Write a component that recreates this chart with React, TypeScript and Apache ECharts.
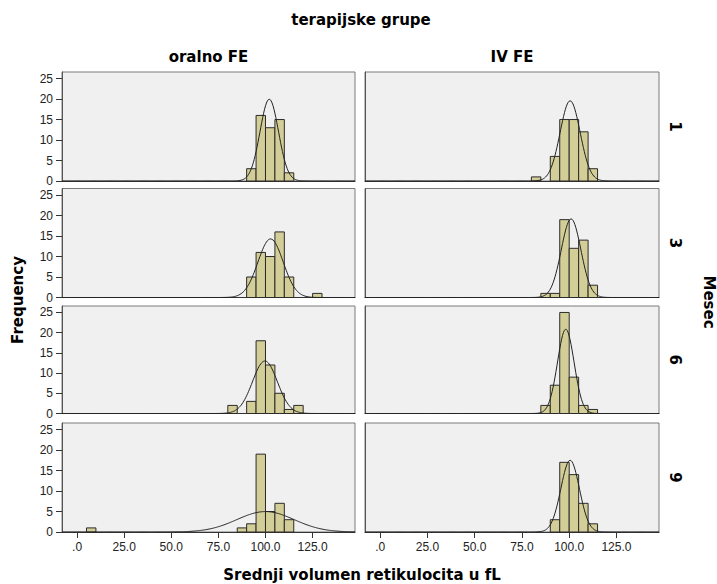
import React, { useEffect, useRef } from "react";
import * as echarts from "echarts";

// ---- data ----
const binWidth = 5;
const xTickValues = [0, 25, 50, 75, 100, 125];
const yTickValues = [0, 5, 10, 15, 20, 25];
const groupNames = ["oralno FE", "IV FE"];
const monthNames = ["1", "3", "6", "9"];

const oral1Bins = [90, 95, 100, 105, 110];
const oral1Counts = [3, 16, 13, 15, 2];
const iv1Bins = [80, 90, 95, 100, 105, 110];
const iv1Counts = [1, 6, 15, 15, 12, 3];

const oral3Bins = [90, 95, 100, 105, 110, 125];
const oral3Counts = [5, 11, 10, 16, 5, 1];
const iv3Bins = [85, 90, 95, 100, 105, 110];
const iv3Counts = [1, 1, 19, 12, 14, 3];

const oral6Bins = [80, 90, 95, 100, 105, 110, 115];
const oral6Counts = [2, 3, 18, 12, 5, 1, 2];
const iv6Bins = [85, 90, 95, 100, 105, 110];
const iv6Counts = [2, 7, 25, 9, 2, 1];

const oral9Bins = [5, 85, 90, 95, 100, 105, 110];
const oral9Counts = [1, 1, 2, 19, 5, 7, 3];
const iv9Bins = [90, 95, 100, 105, 110];
const iv9Counts = [3, 17, 14, 7, 2];

// fitted normal curve parameters (mean, sd)
const oral1Fit = [102, 4.9];
const iv1Fit = [100.5, 5.3];
const oral3Fit = [102.7, 6.7];
const iv3Fit = [101, 5.2];
const oral6Fit = [99.7, 6.6];
const iv6Fit = [98.2, 4.4];
const oral9Fit = [100, 15.2];
const iv9Fit = [100.5, 4.9];

const panels = [
  { bins: oral1Bins, counts: oral1Counts, fit: oral1Fit },
  { bins: iv1Bins, counts: iv1Counts, fit: iv1Fit },
  { bins: oral3Bins, counts: oral3Counts, fit: oral3Fit },
  { bins: iv3Bins, counts: iv3Counts, fit: iv3Fit },
  { bins: oral6Bins, counts: oral6Counts, fit: oral6Fit },
  { bins: iv6Bins, counts: iv6Counts, fit: iv6Fit },
  { bins: oral9Bins, counts: oral9Counts, fit: oral9Fit },
  { bins: iv9Bins, counts: iv9Counts, fit: iv9Fit },
];

// ---- layout ----
const X_MIN = -8;
const X_MAX = 147.5;
const Y_MAX = 26.6;
const colLeft = [62, 365];
const colWidth = [293, 294];
const rowTop = [72, 188.5, 306, 423];
const rowHeight = [109, 109, 107.5, 109];

const BAR_FILL = "#d3ce97";
const PANEL_BG = "#f0f0f0";
const LABEL_FONT = "'Liberation Sans', Arial, sans-serif";
const TITLE_FONT = "'DejaVu Sans', Verdana, sans-serif";

function normalCurve(n: number, mean: number, sd: number) {
  const pts: number[][] = [];
  for (let x = X_MIN; x <= X_MAX + 1e-9; x += 0.5) {
    const z = (x - mean) / sd;
    pts.push([x, (n * binWidth * Math.exp(-0.5 * z * z)) / (sd * Math.sqrt(2 * Math.PI))]);
  }
  return pts;
}

function buildOption() {
  const grid: any[] = [];
  const xAxis: any[] = [];
  const yAxis: any[] = [];
  const series: any[] = [];

  panels.forEach((p, i) => {
    const row = Math.floor(i / 2);
    const col = i % 2;
    const isBottom = row === 3;
    const isLeft = col === 0;
    grid.push({
      left: colLeft[col],
      top: rowTop[row],
      width: colWidth[col],
      height: rowHeight[row],
      show: true,
      backgroundColor: PANEL_BG,
      borderColor: "#7a7a7a",
      borderWidth: 1,
    });
    xAxis.push({
      type: "value",
      gridIndex: i,
      min: X_MIN,
      max: X_MAX,
      splitLine: { show: false },
      axisLine: { show: true, onZero: false, lineStyle: { color: "#333", width: 1.2 } },
      axisTick: {
        show: isBottom,
        customValues: xTickValues,
        length: 6,
        lineStyle: { color: "#333" },
      },
      axisLabel: {
        show: isBottom,
        customValues: xTickValues,
        margin: 9,
        fontSize: 12,
        color: "#222",
        fontFamily: LABEL_FONT,
        formatter: (v: number) => (v === 0 ? ".0" : v.toFixed(1)),
      },
    });
    yAxis.push({
      type: "value",
      gridIndex: i,
      min: 0,
      max: Y_MAX,
      splitLine: { show: false },
      axisLine: { show: true, onZero: false, lineStyle: { color: "#555", width: 1 } },
      axisTick: {
        show: isLeft,
        customValues: yTickValues,
        length: 6,
        lineStyle: { color: "#333" },
      },
      axisLabel: {
        show: isLeft,
        customValues: yTickValues,
        margin: 9,
        fontSize: 12,
        color: "#222",
        fontFamily: LABEL_FONT,
      },
    });
    const n = p.counts.reduce((a, b) => a + b, 0);
    series.push({
      type: "custom",
      xAxisIndex: i,
      yAxisIndex: i,
      data: p.bins.map((lo, k) => [lo, lo + binWidth, p.counts[k]]),
      encode: { x: [0, 1], y: 2 },
      renderItem: (_params: any, api: any) => {
        const a = api.coord([api.value(0), api.value(2)]);
        const b = api.coord([api.value(1), 0]);
        return {
          type: "rect",
          shape: { x: a[0], y: a[1], width: b[0] - a[0], height: b[1] - a[1] },
          style: { fill: BAR_FILL, stroke: "#2b2b2b", lineWidth: 1 },
        };
      },
      z: 2,
    });
    series.push({
      type: "line",
      xAxisIndex: i,
      yAxisIndex: i,
      data: normalCurve(n, p.fit[0], p.fit[1]),
      showSymbol: false,
      symbol: "none",
      lineStyle: { color: "#222", width: 1 },
      z: 3,
      clip: true,
    });
  });

  const bold = `bold 15px ${TITLE_FONT}`;
  const graphic: any[] = [
    {
      type: "text",
      x: 361,
      y: 20,
      style: { text: "terapijske grupe", fill: "#000", font: bold, align: "center", verticalAlign: "middle" },
    },
    ...groupNames.map((g, c) => ({
      type: "text",
      x: colLeft[c] + colWidth[c] / 2,
      y: 57,
      style: { text: g, fill: "#000", font: bold, align: "center", verticalAlign: "middle" },
    })),
    ...monthNames.map((m, r) => ({
      type: "text",
      x: 675,
      y: rowTop[r] + rowHeight[r] / 2,
      rotation: -Math.PI / 2,
      style: { text: m, fill: "#000", font: bold, align: "center", verticalAlign: "middle" },
    })),
    {
      type: "text",
      x: 709,
      y: 302,
      rotation: -Math.PI / 2,
      style: { text: "Mesec", fill: "#000", font: bold, align: "center", verticalAlign: "middle" },
    },
    {
      type: "text",
      x: 18,
      y: 300,
      rotation: Math.PI / 2,
      style: { text: "Frequency", fill: "#000", font: bold, align: "center", verticalAlign: "middle" },
    },
    {
      type: "text",
      x: 362,
      y: 575,
      style: {
        text: "Srednji volumen retikulocita u fL",
        fill: "#000",
        font: bold,
        align: "center",
        verticalAlign: "middle",
      },
    },
  ];

  return {
    animation: false,
    backgroundColor: "#ffffff",
    grid,
    xAxis,
    yAxis,
    series,
    graphic,
  };
}

export default function App() {
  const ref = useRef<HTMLDivElement>(null);
  useEffect(() => {
    if (!ref.current) return;
    const chart = echarts.init(ref.current, undefined, { renderer: "svg" });
    chart.setOption(buildOption());
    return () => chart.dispose();
  }, []);
  return (
    <div
      ref={ref}
      style={{ position: "absolute", left: 0, top: 0, width: 717, height: 584 }}
    />
  );
}
